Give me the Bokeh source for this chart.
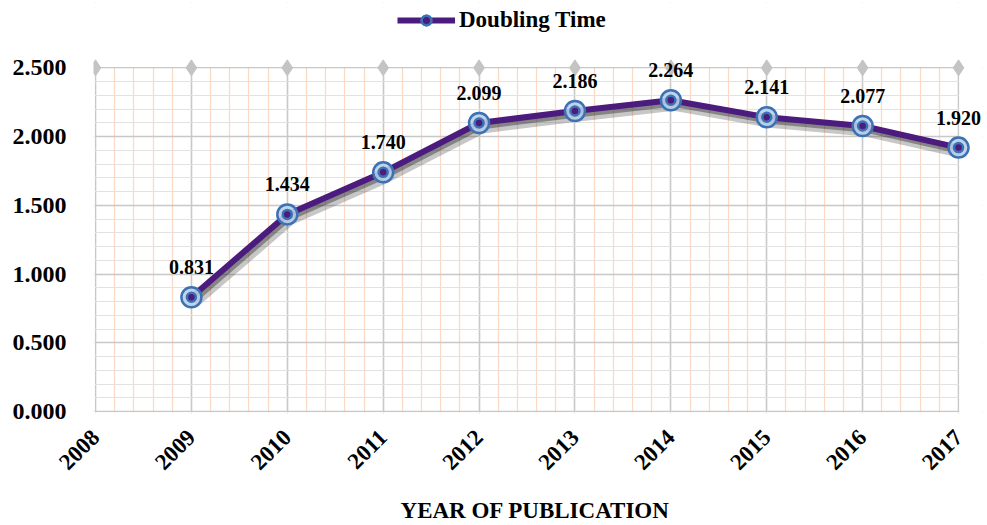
import math
from bokeh.plotting import figure
from bokeh.models import (ColumnDataSource, SingleIntervalTicker, Range1d, Legend, LegendItem,
                          NumeralTickFormatter, LabelSet, BoxAnnotation)
from bokeh.transform import dodge
from bokeh.embed import file_html
from bokeh.resources import INLINE

years = [2009, 2010, 2011, 2012, 2013, 2014, 2015, 2016, 2017]
doubling_time = [0.831, 1.434, 1.740, 2.099, 2.186, 2.264, 2.141, 2.077, 1.920]
labels = ["0.831", "1.434", "1.740", "2.099", "2.186", "2.264", "2.141", "2.077", "1.920"]
top_years = [2008, 2009, 2010, 2011, 2012, 2013, 2014, 2015, 2016, 2017]
top_vals = [2.5] * len(top_years)
X_MIN, X_MAX = 2008, 2017
Y_MIN, Y_MAX = 0.0, 2.5

FONT = "Liberation Serif"

src = ColumnDataSource(dict(x=years, y=doubling_time, lab=labels))
top_src = ColumnDataSource(dict(x=top_years, y=top_vals))

p = figure(width=987, height=525, output_backend="svg", toolbar_location=None,
           x_range=Range1d(X_MIN - 0.021, X_MAX + 0.25),
           y_range=Range1d(Y_MIN - 0.0144, Y_MAX + 0.4755),
           min_border_left=93, min_border_right=5, min_border_top=2, min_border_bottom=108)
p.outline_line_color = None
p.background_fill_color = "white"
p.border_fill_color = "white"

p.xaxis.ticker = SingleIntervalTicker(interval=1, num_minor_ticks=5)
p.yaxis.ticker = SingleIntervalTicker(interval=0.5, num_minor_ticks=5)
p.xgrid.ticker = SingleIntervalTicker(interval=1, num_minor_ticks=5)
p.ygrid.ticker = SingleIntervalTicker(interval=0.5, num_minor_ticks=5)
p.yaxis.formatter = NumeralTickFormatter(format="0.000")

for ax in (p.xaxis[0], p.yaxis[0]):
    ax.axis_line_color = None
    ax.major_tick_line_color = None
    ax.minor_tick_line_color = None
    ax.major_label_text_font = FONT
    ax.major_label_text_font_style = "bold"
    ax.major_label_text_color = "black"
p.yaxis.major_label_text_font_size = "24px"
p.yaxis.major_label_standoff = 21
p.xaxis.major_label_text_font_size = "23px"
p.xaxis.major_label_orientation = math.pi / 4
p.xaxis.major_label_standoff = 14
p.xaxis.axis_label = "YEAR  OF PUBLICATION"
p.xaxis.axis_label_text_font = FONT
p.xaxis.axis_label_text_font_style = "bold"
p.xaxis.axis_label_text_font_size = "23px"
p.xaxis.axis_label_text_color = "black"
p.xaxis.axis_label_standoff = 18

p.xgrid.bounds = (X_MIN - 0.001, X_MAX + 0.001)
p.ygrid.bounds = (Y_MIN - 0.001, Y_MAX + 0.001)
p.xgrid.grid_line_color = "#C8C8C8"
p.xgrid.grid_line_width = 1.5
p.xgrid.minor_grid_line_color = "#FBD9C4"
p.xgrid.minor_grid_line_width = 1.3
p.ygrid.grid_line_color = "#C8C8C8"
p.ygrid.grid_line_width = 1.5
p.ygrid.minor_grid_line_color = "#E2E2E2"
p.ygrid.minor_grid_line_width = 1.2

# white masks outside the plotting region (grid overflow)
for kw in (dict(bottom=Y_MAX + 0.006), dict(left=X_MAX + 0.008),
           dict(right=X_MIN - 0.008), dict(top=Y_MIN - 0.006)):
    p.add_layout(BoxAnnotation(fill_color="white", fill_alpha=1, line_color=None,
                               level="underlay", **kw))

# top diamonds
p.scatter("x", "y", source=top_src, marker="diamond", size=16, color="#C4C4C4")

# shadow
p.line(dodge("x", 0.035, range=p.x_range), dodge("y", -0.04, range=p.y_range), source=src,
       line_color="#444444", line_width=10, line_alpha=0.3)
p.line(dodge("x", 0.02, range=p.x_range), dodge("y", -0.025, range=p.y_range), source=src,
       line_color="#222222", line_width=6, line_alpha=0.4)

ln = p.line("x", "y", source=src, line_color="#4B1C7D", line_width=6)
c1 = p.scatter("x", "y", source=src, marker="circle", size=20, fill_color="#B9CFEA",
               fill_alpha=0.9, line_color="#3C72B4", line_width=2.5)
c2 = p.scatter("x", "y", source=src, marker="circle", size=9, fill_color="#4B1C7D",
               line_color="#3C72B4", line_width=2.5)

p.add_layout(LabelSet(x="x", y="y", text="lab", source=src, x_offset=0, y_offset=23,
                      text_align="center", text_font=FONT, text_font_style="bold",
                      text_font_size="20px", text_color="black"))

legend = Legend(items=[LegendItem(label="Doubling Time", renderers=[ln, c1, c2])],
                location=(304, 380), orientation="horizontal", glyph_width=58, glyph_height=24,
                label_text_font=FONT, label_text_font_style="bold", label_text_font_size="23px",
                label_text_color="black", border_line_color=None, background_fill_alpha=0,
                padding=0, margin=0, label_standoff=4, label_height=24)
p.add_layout(legend)

open("out.html", "w").write(file_html(p, INLINE))
